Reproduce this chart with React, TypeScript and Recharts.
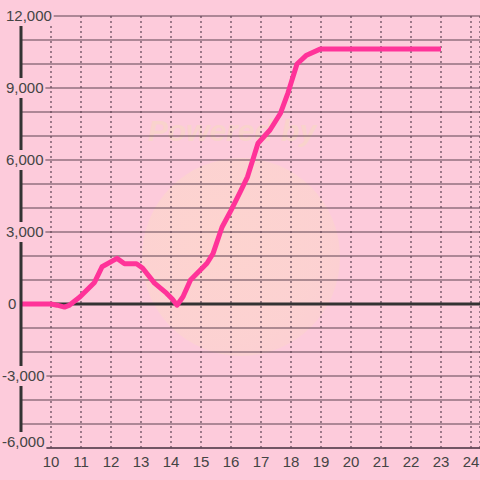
import React from 'react';
import { LineChart, Line, XAxis, YAxis, CartesianGrid, ReferenceLine } from 'recharts';

// values
const hours = [9, 10, 10.2, 10.45, 10.6, 10.97, 11.45, 11.7, 12.2, 12.45, 12.85, 13.05, 13.45, 13.85, 14.05, 14.2, 14.4, 14.65, 15.2, 15.4, 15.7, 16.0, 16.3, 16.55, 16.9, 17.3, 17.65, 17.9, 18.2, 18.5, 18.97, 23];
const amounts = [0, 0, -50, -130, -60, 300, 900, 1550, 1900, 1680, 1680, 1500, 870, 450, 200, -50, 300, 1000, 1700, 2100, 3200, 3900, 4650, 5300, 6700, 7250, 7950, 8800, 10000, 10350, 10620, 10620];
const xTicks = [10, 11, 12, 13, 14, 15, 16, 17, 18, 19, 20, 21, 22, 23, 24];
const yTicks = [-6000, -5000, -4000, -3000, -2000, -1000, 0, 1000, 2000, 3000, 4000, 5000, 6000, 7000, 8000, 9000, 10000, 11000, 12000];

const BG = '#fdcbdb';
const TEXT = '#444444';
const GRID = '#5e4453';

const data = hours.map((h, i) => ({ h, v: amounts[i] }));

const labelWidth = (s: string) => {
  let w = 0;
  for (const c of s) w += c === ',' ? 4.2 : c === '-' ? 5 : 8.3;
  return w;
};

const YTick = (props: { y?: number; payload?: { value: number } }) => {
  const { payload } = props;
  let y = props.y;
  if (y === undefined || !payload || payload.value % 3000 !== 0) return null;
  const label = payload.value.toLocaleString('en-US');
  const x = payload.value < 0 ? 2 : payload.value === 0 ? 8 : 6;
  // bottom label is pushed up to stay inside the chart
  if (payload.value === -6000) y -= 6;
  const w = labelWidth(label);
  return (
    <g>
      <rect x={x - 1} y={y - 10} width={w + 3} height={20} fill={BG} />
      <text x={x} y={y} dy={5} fontSize={15} fill={TEXT} textAnchor="start" fontFamily="'Liberation Sans', Arial, sans-serif">
        {label}
      </text>
    </g>
  );
};

const XTick = (props: { x?: number; y?: number; payload?: { value: number } }) => {
  const { x, y, payload } = props;
  if (x === undefined || y === undefined || !payload) return null;
  return (
    <text x={x} y={y} dy={11} fontSize={15} fill={TEXT} textAnchor="middle" fontFamily="'Liberation Sans', Arial, sans-serif">
      {payload.value}
    </text>
  );
};

export default function App() {
  return (
    <div style={{ position: 'absolute', left: 0, top: 0, width: 480, height: 480, background: BG, overflow: 'hidden' }}>
      {/* faint watermark */}
      <div
        style={{
          position: 'absolute',
          left: 142,
          top: 158,
          width: 198,
          height: 198,
          borderRadius: '50%',
          background: 'radial-gradient(circle at 40% 40%, #fdd6cc 0%, #fcd3cf 60%, #fbcdd2 100%)',
          opacity: 0.8,
        }}
      />
      <div
        style={{
          position: 'absolute',
          left: 148,
          top: 114,
          fontFamily: "'Liberation Sans', Arial, sans-serif",
          fontWeight: 'bold',
          fontStyle: 'italic',
          fontSize: 30,
          color: '#f9d3cc',
        }}
      >
        Powered by
      </div>
      <div style={{ position: 'absolute', left: 0, top: 0 }}>
        <LineChart width={480} height={480} data={data} margin={{ top: 16, right: 0, left: 0, bottom: 0 }}>
          <CartesianGrid horizontal={false} stroke={GRID} strokeDasharray="2 3" strokeWidth={1.2} />
          <CartesianGrid vertical={false} stroke={GRID} strokeWidth={1.2} />
          <XAxis
            dataKey="h"
            type="number"
            domain={[9, 24.3]}
            ticks={xTicks}
            height={32}
            tickLine={false}
            axisLine={{ stroke: GRID, strokeWidth: 1.5 }}
            tick={<XTick />}
            interval={0}
          />
          <YAxis
            type="number"
            domain={[-6000, 12000]}
            ticks={yTicks}
            width={21}
            tickLine={false}
            axisLine={{ stroke: '#333333', strokeWidth: 3 }}
            tick={<YTick />}
            interval={0}
          />
          <ReferenceLine y={0} stroke="#333333" strokeWidth={3} />
          <Line
            type="linear"
            dataKey="v"
            stroke="#ff3399"
            strokeWidth={5}
            strokeLinejoin="round"
            dot={false}
            isAnimationActive={false}
          />
        </LineChart>
      </div>
    </div>
  );
}
